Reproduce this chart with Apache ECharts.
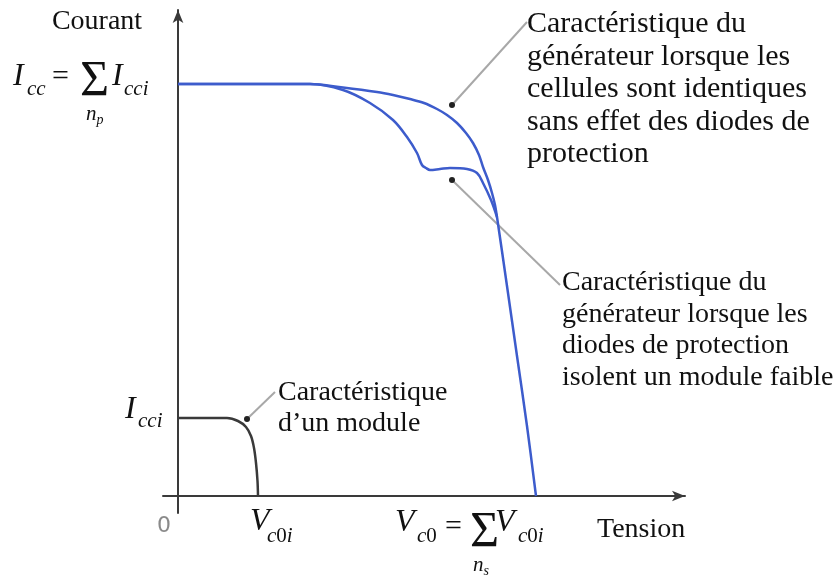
<!DOCTYPE html>
<html>
<head>
<meta charset="utf-8">
<script src="https://cdn.jsdelivr.net/npm/echarts@6/dist/echarts.min.js"></script>
<style>
  html, body { margin: 0; padding: 0; background: #fff; }
  #chart { width: 838px; height: 579px; }
</style>
</head>
<body>
<div id="chart"></div>
<script>
// courbes I(V) (unites arbitraires)
var genV = [0, 132, 165, 199, 215, 232, 246, 259, 269, 279, 288, 295, 301, 305, 310, 314, 317, 319, 329, 339, 349, 358]
var genI = [412, 412, 408.5, 404, 401, 397, 393, 387, 381, 373, 363, 353, 341, 329, 316, 303, 291, 279, 210, 140, 70, 0]

var faultV = [0, 132, 165, 192, 215, 229, 239, 244, 248, 252, 262, 272, 289, 299, 305, 313, 319]
var faultI = [412, 412, 406, 393, 376, 359, 343, 331, 328, 326, 327, 328, 327, 323, 313, 296, 279]

var moduleV = [0, 49, 60, 68, 73, 76, 78, 79.5, 80]
var moduleI = [78, 78, 75, 69, 60, 48, 33, 15, 0]

// traits de rappel : [point sur la courbe, extremite cote texte]
var leaderGen = [[274, 391], [349, 474]]
var leaderFault = [[274, 316], [382, 211]]
var leaderModule = [[69, 77], [97, 104]]

var xRange = [-15, 507]
var yRange = [-17, 486]

function zip (xs, ys) {
  return xs.map(function (x, i) { return [x, ys[i]] })
}

function leader (pts) {
  return {
    type: 'line',
    data: [
      { value: pts[0], symbol: 'circle', symbolSize: 6, itemStyle: { color: '#222' } },
      { value: pts[1], symbol: 'none' }
    ],
    lineStyle: { color: '#a8a8a8', width: 2 },
    silent: true,
    z: 1
  }
}

function curve (data, color) {
  return {
    type: 'line',
    data: data,
    smooth: 0.35,
    symbol: 'none',
    lineStyle: { color: color, width: 2.5 },
    z: 3
  }
}

var serif = '"Liberation Serif", "Times New Roman", serif'
var rich = {
  it: { fontFamily: serif, fontStyle: 'italic', fontSize: 21, fill: '#111' },
  up: { fontFamily: serif, fontSize: 21, fill: '#111' }
}
var richIdx = {
  it: rich.it,
  s: { fontFamily: serif, fontStyle: 'italic', fontSize: 14, fill: '#111', padding: [12, 0, 0, 0] }
}

function txt (x, y, str, font, extra) {
  var style = {
    text: str,
    font: font,
    fill: '#111',
    align: 'left',
    verticalAlign: 'middle',
    textAlign: 'left',
    textVerticalAlign: 'middle',
    rich: rich
  }
  for (var k in extra) style[k] = extra[k]
  return { type: 'text', x: x, y: y, style: style, silent: true }
}

var big = 'italic 32px ' + serif
var sub = 'italic 21px ' + serif

var chart = echarts.init(document.getElementById('chart'))

var option = {
  animation: false,
  grid: { left: 163, right: 153, top: 10, bottom: 66 },
  xAxis: {
    type: 'value',
    min: xRange[0],
    max: xRange[1],
    axisLine: { onZero: true, symbol: ['none', 'arrow'], symbolSize: [8, 13], lineStyle: { color: '#3a3a3a', width: 2 } },
    axisTick: { show: false },
    axisLabel: { show: false },
    splitLine: { show: false }
  },
  yAxis: {
    type: 'value',
    min: yRange[0],
    max: yRange[1],
    axisLine: { onZero: true, symbol: ['none', 'arrow'], symbolSize: [8, 13], lineStyle: { color: '#3a3a3a', width: 2 } },
    axisTick: { show: false },
    axisLabel: { show: false },
    splitLine: { show: false }
  },
  series: [
    leader(leaderGen),
    leader(leaderFault),
    leader(leaderModule),
    curve(zip(genV, genI), '#3d5ccc'),
    curve(zip(faultV, faultI), '#3d5ccc'),
    curve(zip(moduleV, moduleI), '#3a3a3a')
  ],
  graphic: [
    txt(97, 22, 'Courant', '28px ' + serif, { align: 'center', textAlign: 'center' }),
    // I_cc = somme I_cci
    txt(13, 77, 'I', big),
    txt(27, 89, 'cc', sub),
    txt(52, 77, '=', '30px ' + serif),
    txt(80, 82, 'Σ', '50px ' + serif),
    txt(112, 77, 'I', big),
    txt(124, 89, 'cci', sub),
    txt(86, 114, '{it|n}{s|p}', sub, { rich: richIdx }),
    // I_cci
    txt(125, 410, 'I', big),
    txt(138, 421, 'cci', sub),
    // axe des tensions
    txt(164, 526, '0', '22px "DejaVu Sans", sans-serif', { fill: '#8a8a8a', align: 'center', textAlign: 'center' }),
    txt(250, 522, 'V', big),
    txt(267, 536, '{it|c}{up|0}{it|i}', sub),
    txt(395, 523, 'V', big),
    txt(417, 536, '{it|c}{up|0}', sub),
    txt(445, 527, '=', '30px ' + serif),
    txt(470, 533, 'Σ', '50px ' + serif),
    txt(495, 523, 'V', big),
    txt(518, 536, '{it|c}{up|0}{it|i}', sub),
    txt(473, 565, '{it|n}{s|s}', sub, { rich: richIdx }),
    txt(597, 530, 'Tension', '28px ' + serif),
    // legendes
    txt(527, 8, 'Caractéristique du\ngénérateur lorsque les\ncellules sont identiques\nsans effet des diodes de\nprotection',
      '30px ' + serif, { verticalAlign: 'top', textVerticalAlign: 'top', lineHeight: 32.5 }),
    txt(562, 267, 'Caractéristique du\ngénérateur lorsque les\ndiodes de protection\nisolent un module faible',
      '28px ' + serif, { verticalAlign: 'top', textVerticalAlign: 'top', lineHeight: 31.5 }),
    txt(278, 377, 'Caractéristique\nd’un module',
      '28px ' + serif, { verticalAlign: 'top', textVerticalAlign: 'top', lineHeight: 31 })
  ]
}

chart.setOption(option)
window.addEventListener('resize', function () { chart.resize() })
</script>
</body>
</html>
